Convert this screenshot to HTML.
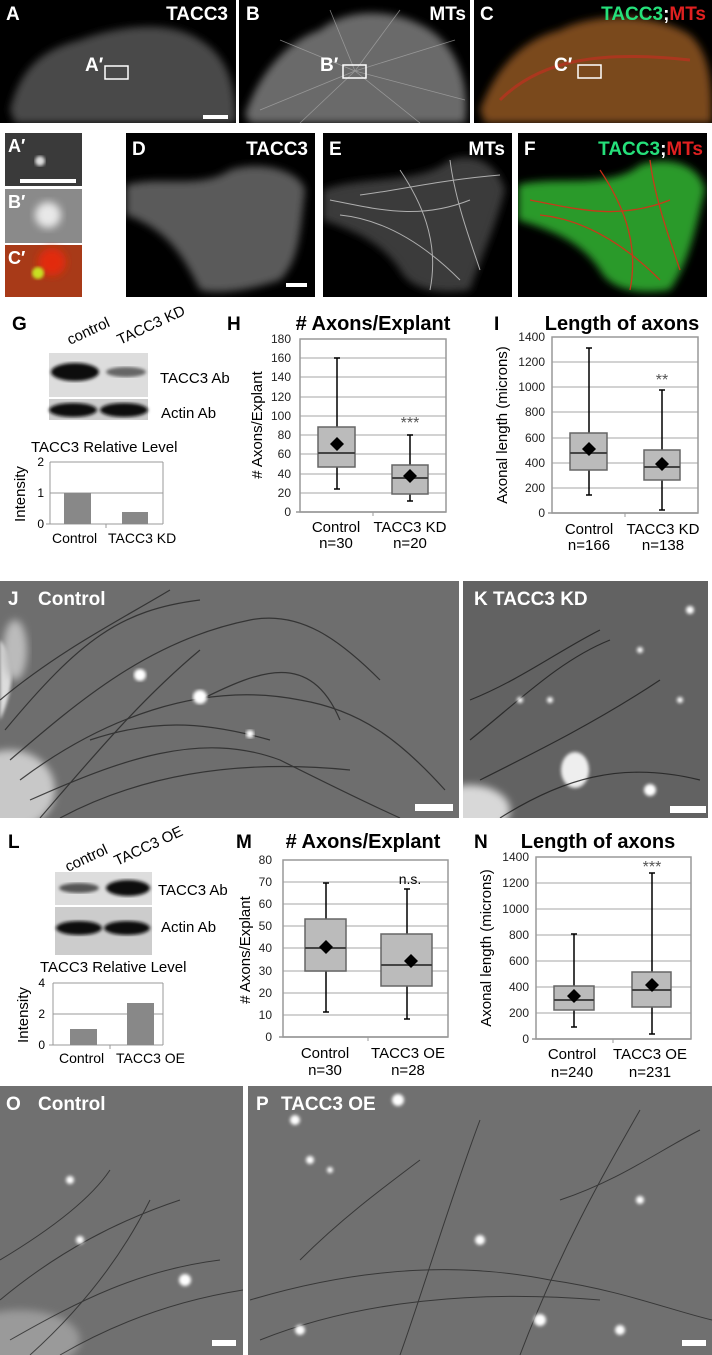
<!DOCTYPE html>
<html><head><meta charset="utf-8"><style>
html,body{margin:0;padding:0;background:#fff;}
svg{display:block;font-family:"Liberation Sans",sans-serif;}
</style></head><body>
<svg width="712" height="1355" viewBox="0 0 712 1355" xmlns="http://www.w3.org/2000/svg">
<defs>
<filter id="bl" x="-20%" y="-20%" width="140%" height="140%"><feGaussianBlur stdDeviation="4"/></filter>
<filter id="bl2"><feGaussianBlur stdDeviation="1.5"/></filter>
<filter id="bl8" x="-30%" y="-30%" width="160%" height="160%"><feGaussianBlur stdDeviation="8"/></filter>
<clipPath id="cA"><rect x="0" y="0" width="236" height="123"/></clipPath>
<clipPath id="cB"><rect x="239" y="0" width="231" height="123"/></clipPath>
<clipPath id="cC"><rect x="474" y="0" width="238" height="123"/></clipPath>
<clipPath id="cD"><rect x="126" y="133" width="189" height="164"/></clipPath>
<clipPath id="cE"><rect x="323" y="133" width="189" height="164"/></clipPath>
<clipPath id="cF"><rect x="518" y="133" width="189" height="164"/></clipPath>
<clipPath id="cJ"><rect x="0" y="581" width="459" height="237"/></clipPath>
<clipPath id="cK"><rect x="463" y="581" width="245" height="237"/></clipPath>
<clipPath id="cO"><rect x="0" y="1086" width="243" height="269"/></clipPath>
<clipPath id="cP"><rect x="248" y="1086" width="464" height="269"/></clipPath>
</defs>

<!-- Row 1 -->
<rect x="0" y="0" width="236" height="123" fill="#000"/>
<g clip-path="url(#cA)"><path d="M10,110 C20,70 40,50 80,40 C120,25 170,20 200,40 C225,55 236,80 236,123 L15,123 Z" fill="#4a4a4a" filter="url(#bl)"/></g>
<rect x="239" y="0" width="231" height="123" fill="#000"/>
<g clip-path="url(#cB)"><path d="M245,115 C260,70 290,40 320,30 C350,5 400,10 430,30 C460,50 470,90 465,123 L250,123 Z" fill="#6a6a6a" filter="url(#bl)"/>
<g stroke="#aaa" stroke-width="0.8" opacity="0.7"><line x1="355" y1="71" x2="260" y2="110"/><line x1="355" y1="71" x2="280" y2="40"/><line x1="355" y1="71" x2="330" y2="10"/><line x1="355" y1="71" x2="400" y2="10"/><line x1="355" y1="71" x2="455" y2="40"/><line x1="355" y1="71" x2="465" y2="100"/><line x1="355" y1="71" x2="420" y2="123"/><line x1="355" y1="71" x2="300" y2="123"/></g></g>
<rect x="474" y="0" width="238" height="123" fill="#000"/>
<g clip-path="url(#cC)"><path d="M480,110 C495,70 520,40 560,30 C600,10 660,15 690,35 C712,55 712,90 712,123 L485,123 Z" fill="#7a4a1a" filter="url(#bl)"/>
<path d="M500,100 C540,60 600,50 690,60" stroke="#c03020" stroke-width="3" fill="none" opacity="0.7"/></g>
<g font-weight="bold" font-size="19" fill="#fff">
<text x="6" y="20">A</text><text x="228" y="20" text-anchor="end">TACC3</text>
<text x="246" y="20">B</text><text x="466" y="20" text-anchor="end">MTs</text>
<text x="480" y="20">C</text>
<text x="706" y="20" text-anchor="end"><tspan fill="#25e07a">TACC3</tspan><tspan fill="#fff">;</tspan><tspan fill="#e02020">MTs</tspan></text>
<text x="85" y="71">A′</text><text x="320" y="71">B′</text><text x="554" y="71">C′</text>
</g>
<rect x="105" y="66" width="23" height="13" fill="none" stroke="#fff" stroke-width="1.5"/>
<rect x="343" y="65" width="23" height="13" fill="none" stroke="#fff" stroke-width="1.5"/>
<rect x="578" y="65" width="23" height="13" fill="none" stroke="#fff" stroke-width="1.5"/>
<rect x="203" y="115" width="25" height="4" fill="#fff"/>

<!-- Row 2 small -->
<rect x="5" y="133" width="77" height="53" fill="#3a3a3a"/>
<circle cx="40" cy="161" r="5" fill="#ddd" filter="url(#bl2)"/>
<rect x="20" y="179" width="56" height="4" fill="#fff"/>
<rect x="5" y="189" width="77" height="54" fill="#8a8a8a"/>
<circle cx="48" cy="215" r="13" fill="#e8e8e8" filter="url(#bl)"/>
<rect x="5" y="245" width="77" height="52" fill="#a83a18"/>
<circle cx="52" cy="262" r="14" fill="#e22a10" filter="url(#bl)"/>
<circle cx="38" cy="273" r="6" fill="#c8e020" filter="url(#bl2)"/>
<g font-weight="bold" font-size="18" fill="#fff"><text x="8" y="152">A′</text><text x="8" y="208">B′</text><text x="8" y="264">C′</text></g>

<!-- D E F -->
<rect x="126" y="133" width="189" height="164" fill="#000"/>
<g clip-path="url(#cD)"><path d="M126,185 C160,175 200,190 230,170 C260,160 300,170 305,190 C300,230 300,260 280,280 C250,290 220,295 200,290 C185,260 170,230 126,215 Z" fill="#5a5a5a" filter="url(#bl)"/></g>
<rect x="286" y="283" width="21" height="4" fill="#fff"/>
<rect x="323" y="133" width="189" height="164" fill="#000"/>
<g clip-path="url(#cE)"><path d="M323,190 C360,175 420,185 450,160 C480,150 500,170 505,190 C495,230 480,260 470,290 C440,295 410,290 400,270 C380,240 350,230 323,220 Z" fill="#3a3a3a" filter="url(#bl)"/>
<g stroke="#ccc" stroke-width="1" fill="none" opacity="0.8"><path d="M330,200 C380,210 420,220 470,200"/><path d="M340,215 C390,220 430,250 460,280"/><path d="M400,170 C420,200 440,240 430,290"/><path d="M450,160 C455,200 470,240 480,270"/><path d="M360,195 C400,190 440,180 500,175"/></g></g>
<rect x="518" y="133" width="189" height="164" fill="#000"/>
<g clip-path="url(#cF)"><path d="M518,185 C555,175 610,190 640,165 C670,155 700,165 705,190 C695,230 690,260 670,290 C640,295 610,290 600,270 C580,240 550,230 518,220 Z" fill="#2a9a2a" filter="url(#bl)"/>
<g stroke="#d83018" stroke-width="1.3" fill="none" opacity="0.9"><path d="M530,200 C580,210 620,220 670,200"/><path d="M540,215 C590,220 630,250 660,280"/><path d="M600,170 C620,200 640,240 630,290"/><path d="M650,160 C655,200 670,240 680,270"/></g></g>
<g font-weight="bold" font-size="19" fill="#fff">
<text x="132" y="155">D</text><text x="308" y="155" text-anchor="end">TACC3</text>
<text x="329" y="155">E</text><text x="505" y="155" text-anchor="end">MTs</text>
<text x="524" y="155">F</text>
<text x="703" y="155" text-anchor="end"><tspan fill="#25e07a">TACC3</tspan><tspan fill="#fff">;</tspan><tspan fill="#e02020">MTs</tspan></text>
</g>

<!-- G -->
<text x="12" y="330" font-weight="bold" font-size="19">G</text>
<text transform="translate(70,345) rotate(-25)" font-size="15">control</text>
<text transform="translate(120,345) rotate(-25)" font-size="15">TACC3 KD</text>
<rect x="49" y="353" width="99" height="44" fill="#ddd"/>
<ellipse cx="75" cy="372" rx="24" ry="9" fill="#111" filter="url(#bl2)"/>
<ellipse cx="126" cy="372" rx="20" ry="5" fill="#666" filter="url(#bl2)"/>
<rect x="49" y="399" width="99" height="21" fill="#ccc"/>
<ellipse cx="73" cy="410" rx="24" ry="7" fill="#111" filter="url(#bl2)"/>
<ellipse cx="124" cy="410" rx="24" ry="7" fill="#111" filter="url(#bl2)"/>
<text x="160" y="383" font-size="15">TACC3 Ab</text>
<text x="161" y="418" font-size="15">Actin Ab</text>
<text x="31" y="452" font-size="15">TACC3 Relative Level</text>
<line x1="50" y1="462" x2="163" y2="462" stroke="#999"/>
<line x1="50" y1="493" x2="163" y2="493" stroke="#999"/>
<line x1="50" y1="462" x2="50" y2="524" stroke="#999"/>
<line x1="163" y1="462" x2="163" y2="524" stroke="#999"/>
<line x1="46" y1="524" x2="163" y2="524" stroke="#999"/>
<line x1="106" y1="524" x2="106" y2="528" stroke="#999"/>
<rect x="64" y="493" width="27" height="31" fill="#888"/>
<rect x="122" y="512" width="26" height="12" fill="#888"/>
<g font-size="12" text-anchor="end"><text x="44" y="466">2</text><text x="44" y="497">1</text><text x="44" y="528">0</text></g>
<text transform="translate(25,494) rotate(-90)" font-size="15" text-anchor="middle">Intensity</text>
<text x="52" y="543" font-size="14">Control</text><text x="108" y="543" font-size="14">TACC3 KD</text>

<!-- H -->
<text x="227" y="330" font-weight="bold" font-size="19">H</text>
<text x="373" y="330" font-weight="bold" font-size="20" text-anchor="middle">#  Axons/Explant</text>
<g stroke="#c4c4c4" stroke-width="1.5"><line x1="300" y1="358" x2="446" y2="358"/><line x1="300" y1="377" x2="446" y2="377"/><line x1="300" y1="397" x2="446" y2="397"/><line x1="300" y1="416" x2="446" y2="416"/><line x1="300" y1="435" x2="446" y2="435"/><line x1="300" y1="454" x2="446" y2="454"/><line x1="300" y1="474" x2="446" y2="474"/><line x1="300" y1="493" x2="446" y2="493"/></g>
<rect x="300" y="339" width="146" height="173" fill="none" stroke="#999" stroke-width="1.5"/>
<line x1="296" y1="512" x2="446" y2="512" stroke="#999" stroke-width="1.5"/><line x1="373" y1="512" x2="373" y2="516" stroke="#999"/>
<g font-size="12" text-anchor="end" fill="#222"><text x="291" y="343">180</text><text x="291" y="362">160</text><text x="291" y="381">140</text><text x="291" y="401">120</text><text x="291" y="420">100</text><text x="291" y="439">80</text><text x="291" y="458">60</text><text x="291" y="478">40</text><text x="291" y="497">20</text><text x="291" y="516">0</text></g>
<text transform="translate(262,425) rotate(-90)" font-size="15" text-anchor="middle"># Axons/Explant</text>
<g stroke="#000" stroke-width="1.5"><line x1="337" y1="358" x2="337" y2="489"/><line x1="334" y1="358" x2="340" y2="358"/><line x1="334" y1="489" x2="340" y2="489"/>
<line x1="410" y1="435" x2="410" y2="501"/><line x1="407" y1="435" x2="413" y2="435"/><line x1="407" y1="501" x2="413" y2="501"/></g>
<rect x="318" y="427" width="37" height="40" fill="#bbb" stroke="#666" stroke-width="1.5"/>
<line x1="318" y1="453" x2="355" y2="453" stroke="#444" stroke-width="2"/>
<rect x="392" y="465" width="36" height="29" fill="#bbb" stroke="#666" stroke-width="1.5"/>
<line x1="392" y1="478" x2="428" y2="478" stroke="#444" stroke-width="2"/>
<path d="M337,437 L344,444 L337,451 L330,444 Z"/><path d="M410,469 L417,476 L410,483 L403,476 Z"/>
<text x="410" y="428" font-size="16" text-anchor="middle" fill="#555">***</text>
<g font-size="15" text-anchor="middle"><text x="336" y="532">Control</text><text x="336" y="548">n=30</text><text x="410" y="532">TACC3 KD</text><text x="410" y="548">n=20</text></g>

<!-- I -->
<text x="494" y="330" font-weight="bold" font-size="19">I</text>
<text x="622" y="330" font-weight="bold" font-size="20" text-anchor="middle">Length of axons</text>
<g stroke="#c4c4c4" stroke-width="1.5"><line x1="552" y1="362" x2="698" y2="362"/><line x1="552" y1="387" x2="698" y2="387"/><line x1="552" y1="412" x2="698" y2="412"/><line x1="552" y1="438" x2="698" y2="438"/><line x1="552" y1="463" x2="698" y2="463"/><line x1="552" y1="488" x2="698" y2="488"/></g>
<rect x="552" y="337" width="146" height="176" fill="none" stroke="#999" stroke-width="1.5"/>
<line x1="548" y1="513" x2="698" y2="513" stroke="#999" stroke-width="1.5"/><line x1="625" y1="513" x2="625" y2="517" stroke="#999"/>
<g font-size="12" text-anchor="end" fill="#222"><text x="545" y="341">1400</text><text x="545" y="366">1200</text><text x="545" y="391">1000</text><text x="545" y="416">800</text><text x="545" y="442">600</text><text x="545" y="467">400</text><text x="545" y="492">200</text><text x="545" y="517">0</text></g>
<text transform="translate(507,425) rotate(-90)" font-size="15" text-anchor="middle">Axonal length (microns)</text>
<g stroke="#000" stroke-width="1.5"><line x1="589" y1="348" x2="589" y2="495"/><line x1="586" y1="348" x2="592" y2="348"/><line x1="586" y1="495" x2="592" y2="495"/>
<line x1="662" y1="390" x2="662" y2="510"/><line x1="659" y1="390" x2="665" y2="390"/><line x1="659" y1="510" x2="665" y2="510"/></g>
<rect x="570" y="433" width="37" height="37" fill="#bbb" stroke="#666" stroke-width="1.5"/>
<line x1="570" y1="453" x2="607" y2="453" stroke="#444" stroke-width="2"/>
<rect x="644" y="450" width="36" height="30" fill="#bbb" stroke="#666" stroke-width="1.5"/>
<line x1="644" y1="467" x2="680" y2="467" stroke="#444" stroke-width="2"/>
<path d="M589,442 L596,449 L589,456 L582,449 Z"/><path d="M662,457 L669,464 L662,471 L655,464 Z"/>
<text x="662" y="385" font-size="16" text-anchor="middle" fill="#555">**</text>
<g font-size="15" text-anchor="middle"><text x="589" y="534">Control</text><text x="589" y="550">n=166</text><text x="663" y="534">TACC3 KD</text><text x="663" y="550">n=138</text></g>

<!-- J K -->
<rect x="0" y="581" width="459" height="237" fill="#6e6e6e"/>
<g clip-path="url(#cJ)">
<path d="M0,640 C20,660 10,700 0,720 Z" fill="#ddd" filter="url(#bl2)"/>
<ellipse cx="10" cy="790" rx="45" ry="40" fill="#c8c8c8" filter="url(#bl)"/>
<ellipse cx="15" cy="650" rx="12" ry="30" fill="#bbb" filter="url(#bl)"/>
<g stroke="#2a2a2a" stroke-width="1.2" fill="none" opacity="0.85">
<path d="M10,760 C80,700 150,640 250,620 C300,610 340,640 380,680"/>
<path d="M20,780 C100,720 200,680 300,700 C360,710 400,740 445,790"/>
<path d="M30,800 C120,760 200,730 280,760 C320,780 360,800 400,818"/>
<path d="M0,700 C60,650 120,620 170,590"/>
<path d="M40,818 C90,760 140,700 200,650"/>
<path d="M60,818 C150,770 250,760 350,770"/>
<path d="M90,740 C150,720 200,720 270,740"/>
<path d="M200,700 C260,670 310,650 340,720"/>
<path d="M5,730 C80,640 120,610 200,600"/>
</g>
<circle cx="140" cy="675" r="6" fill="#fff" filter="url(#bl2)"/><circle cx="200" cy="697" r="7" fill="#fff" filter="url(#bl2)"/><circle cx="250" cy="734" r="4" fill="#fff" filter="url(#bl2)"/>
</g>
<rect x="415" y="804" width="38" height="7" fill="#fff"/>
<rect x="463" y="581" width="245" height="237" fill="#626262"/>
<g clip-path="url(#cK)">
<ellipse cx="470" cy="810" rx="40" ry="25" fill="#d8d8d8" filter="url(#bl)"/>
<ellipse cx="575" cy="770" rx="14" ry="18" fill="#eee" filter="url(#bl2)"/>
<g stroke="#222" stroke-width="1.2" fill="none" opacity="0.85"><path d="M470,740 C520,700 560,660 610,640"/><path d="M480,780 C540,750 600,720 660,680"/><path d="M500,818 C560,780 620,760 700,780"/><path d="M470,700 C520,680 560,650 600,630"/></g>
<g fill="#fff" filter="url(#bl2)"><circle cx="520" cy="700" r="3"/><circle cx="550" cy="700" r="3"/><circle cx="640" cy="650" r="3"/><circle cx="680" cy="700" r="3"/><circle cx="650" cy="790" r="6"/><circle cx="690" cy="610" r="4"/></g>
</g>
<rect x="670" y="806" width="36" height="7" fill="#fff"/>
<g font-weight="bold" font-size="19" fill="#fff"><text x="8" y="605">J</text><text x="38" y="605">Control</text><text x="474" y="605">K  TACC3 KD</text></g>

<!-- L -->
<text x="8" y="848" font-weight="bold" font-size="19">L</text>
<text transform="translate(68,872) rotate(-25)" font-size="15">control</text>
<text transform="translate(117,866) rotate(-25)" font-size="15">TACC3 OE</text>
<rect x="55" y="872" width="97" height="33" fill="#ddd"/>
<ellipse cx="79" cy="888" rx="20" ry="5" fill="#555" filter="url(#bl2)"/>
<ellipse cx="128" cy="888" rx="22" ry="8" fill="#111" filter="url(#bl2)"/>
<rect x="55" y="907" width="97" height="48" fill="#ccc"/>
<ellipse cx="79" cy="928" rx="23" ry="7" fill="#111" filter="url(#bl2)"/>
<ellipse cx="127" cy="928" rx="23" ry="7" fill="#111" filter="url(#bl2)"/>
<text x="158" y="895" font-size="15">TACC3 Ab</text>
<text x="161" y="932" font-size="15">Actin Ab</text>
<text x="40" y="972" font-size="15">TACC3 Relative Level</text>
<line x1="53" y1="983" x2="163" y2="983" stroke="#999"/>
<line x1="53" y1="1014" x2="163" y2="1014" stroke="#999"/>
<line x1="53" y1="983" x2="53" y2="1045" stroke="#999"/>
<line x1="163" y1="983" x2="163" y2="1045" stroke="#999"/>
<line x1="49" y1="1045" x2="163" y2="1045" stroke="#999"/>
<line x1="110" y1="1045" x2="110" y2="1049" stroke="#999"/>
<rect x="70" y="1029" width="27" height="16" fill="#888"/>
<rect x="127" y="1003" width="27" height="42" fill="#888"/>
<g font-size="12" text-anchor="end"><text x="45" y="987">4</text><text x="45" y="1018">2</text><text x="45" y="1049">0</text></g>
<text transform="translate(28,1015) rotate(-90)" font-size="15" text-anchor="middle">Intensity</text>
<text x="59" y="1063" font-size="14">Control</text><text x="116" y="1063" font-size="14">TACC3 OE</text>

<!-- M -->
<text x="236" y="848" font-weight="bold" font-size="19">M</text>
<text x="363" y="848" font-weight="bold" font-size="20" text-anchor="middle">#  Axons/Explant</text>
<g stroke="#c4c4c4" stroke-width="1.5"><line x1="283" y1="882" x2="448" y2="882"/><line x1="283" y1="904" x2="448" y2="904"/><line x1="283" y1="926" x2="448" y2="926"/><line x1="283" y1="948" x2="448" y2="948"/><line x1="283" y1="971" x2="448" y2="971"/><line x1="283" y1="993" x2="448" y2="993"/><line x1="283" y1="1015" x2="448" y2="1015"/></g>
<rect x="283" y="860" width="165" height="177" fill="none" stroke="#999" stroke-width="1.5"/>
<line x1="279" y1="1037" x2="448" y2="1037" stroke="#999" stroke-width="1.5"/><line x1="368" y1="1037" x2="368" y2="1041" stroke="#999"/>
<g font-size="12" text-anchor="end" fill="#222"><text x="272" y="864">80</text><text x="272" y="886">70</text><text x="272" y="908">60</text><text x="272" y="930">50</text><text x="272" y="952">40</text><text x="272" y="975">30</text><text x="272" y="997">20</text><text x="272" y="1019">10</text><text x="272" y="1041">0</text></g>
<text transform="translate(250,950) rotate(-90)" font-size="15" text-anchor="middle"># Axons/Explant</text>
<g stroke="#000" stroke-width="1.5"><line x1="326" y1="883" x2="326" y2="1012"/><line x1="323" y1="883" x2="329" y2="883"/><line x1="323" y1="1012" x2="329" y2="1012"/>
<line x1="407" y1="889" x2="407" y2="1019"/><line x1="404" y1="889" x2="410" y2="889"/><line x1="404" y1="1019" x2="410" y2="1019"/></g>
<rect x="305" y="919" width="41" height="52" fill="#bbb" stroke="#666" stroke-width="1.5"/>
<line x1="305" y1="948" x2="346" y2="948" stroke="#444" stroke-width="2"/>
<rect x="381" y="934" width="51" height="52" fill="#bbb" stroke="#666" stroke-width="1.5"/>
<line x1="381" y1="965" x2="432" y2="965" stroke="#444" stroke-width="2"/>
<path d="M326,940 L333,947 L326,954 L319,947 Z"/><path d="M411,954 L418,961 L411,968 L404,961 Z"/>
<text x="410" y="884" font-size="14" text-anchor="middle">n.s.</text>
<g font-size="15" text-anchor="middle"><text x="325" y="1058">Control</text><text x="325" y="1075">n=30</text><text x="408" y="1058">TACC3 OE</text><text x="408" y="1075">n=28</text></g>

<!-- N -->
<text x="474" y="848" font-weight="bold" font-size="19">N</text>
<text x="598" y="848" font-weight="bold" font-size="20" text-anchor="middle">Length of axons</text>
<g stroke="#c4c4c4" stroke-width="1.5"><line x1="536" y1="883" x2="691" y2="883"/><line x1="536" y1="909" x2="691" y2="909"/><line x1="536" y1="935" x2="691" y2="935"/><line x1="536" y1="961" x2="691" y2="961"/><line x1="536" y1="987" x2="691" y2="987"/><line x1="536" y1="1013" x2="691" y2="1013"/></g>
<rect x="536" y="857" width="155" height="182" fill="none" stroke="#999" stroke-width="1.5"/>
<line x1="532" y1="1039" x2="691" y2="1039" stroke="#999" stroke-width="1.5"/><line x1="613" y1="1039" x2="613" y2="1043" stroke="#999"/>
<g font-size="12" text-anchor="end" fill="#222"><text x="529" y="861">1400</text><text x="529" y="887">1200</text><text x="529" y="913">1000</text><text x="529" y="939">800</text><text x="529" y="965">600</text><text x="529" y="991">400</text><text x="529" y="1017">200</text><text x="529" y="1043">0</text></g>
<text transform="translate(491,948) rotate(-90)" font-size="15" text-anchor="middle">Axonal length (microns)</text>
<g stroke="#000" stroke-width="1.5"><line x1="574" y1="934" x2="574" y2="1027"/><line x1="571" y1="934" x2="577" y2="934"/><line x1="571" y1="1027" x2="577" y2="1027"/>
<line x1="652" y1="873" x2="652" y2="1034"/><line x1="649" y1="873" x2="655" y2="873"/><line x1="649" y1="1034" x2="655" y2="1034"/></g>
<rect x="554" y="986" width="40" height="24" fill="#bbb" stroke="#666" stroke-width="1.5"/>
<line x1="554" y1="1000" x2="594" y2="1000" stroke="#444" stroke-width="2"/>
<rect x="632" y="972" width="39" height="35" fill="#bbb" stroke="#666" stroke-width="1.5"/>
<line x1="632" y1="990" x2="671" y2="990" stroke="#444" stroke-width="2"/>
<path d="M551,989 L558,996 L551,1003 L544,996 Z" transform="translate(23,0)"/><path d="M652,978 L659,985 L652,992 L645,985 Z"/>
<text x="652" y="872" font-size="16" text-anchor="middle" fill="#555">***</text>
<g font-size="15" text-anchor="middle"><text x="572" y="1059">Control</text><text x="572" y="1077">n=240</text><text x="650" y="1059">TACC3 OE</text><text x="650" y="1077">n=231</text></g>

<!-- O P -->
<rect x="0" y="1086" width="243" height="269" fill="#707070"/>
<g clip-path="url(#cO)">
<ellipse cx="20" cy="1340" rx="60" ry="30" fill="#9a9a9a" filter="url(#bl)"/>
<g stroke="#2a2a2a" stroke-width="1" fill="none" opacity="0.8"><path d="M0,1300 C60,1250 120,1220 180,1200"/><path d="M10,1340 C80,1300 140,1270 220,1260"/><path d="M30,1355 C80,1310 120,1260 150,1200"/><path d="M0,1260 C50,1230 90,1200 110,1170"/><path d="M60,1355 C120,1320 180,1300 243,1290"/></g>
<g fill="#fff" filter="url(#bl2)"><circle cx="70" cy="1180" r="4"/><circle cx="80" cy="1240" r="4"/><circle cx="185" cy="1280" r="6"/></g>
</g>
<rect x="212" y="1340" width="24" height="6" fill="#fff"/>
<rect x="248" y="1086" width="464" height="269" fill="#707070"/>
<g clip-path="url(#cP)">
<g stroke="#2a2a2a" stroke-width="1" fill="none" opacity="0.8"><path d="M250,1300 C350,1270 450,1260 550,1280 C620,1290 670,1310 712,1320"/><path d="M260,1340 C360,1300 480,1290 600,1300"/><path d="M400,1355 C420,1300 450,1200 480,1120"/><path d="M520,1355 C560,1250 600,1180 640,1110"/><path d="M300,1260 C340,1220 380,1190 420,1160"/><path d="M560,1200 C620,1180 660,1150 700,1130"/></g>
<g fill="#fff" filter="url(#bl2)"><circle cx="295" cy="1120" r="5"/><circle cx="310" cy="1160" r="4"/><circle cx="330" cy="1170" r="3"/><circle cx="398" cy="1100" r="6"/><circle cx="480" cy="1240" r="5"/><circle cx="640" cy="1200" r="4"/><circle cx="540" cy="1320" r="6"/><circle cx="620" cy="1330" r="5"/><circle cx="300" cy="1330" r="5"/></g>
</g>
<rect x="682" y="1340" width="24" height="6" fill="#fff"/>
<g font-weight="bold" font-size="19" fill="#fff"><text x="6" y="1110">O</text><text x="38" y="1110">Control</text><text x="256" y="1110">P</text><text x="281" y="1110">TACC3 OE</text></g>
</svg>
</body></html>
